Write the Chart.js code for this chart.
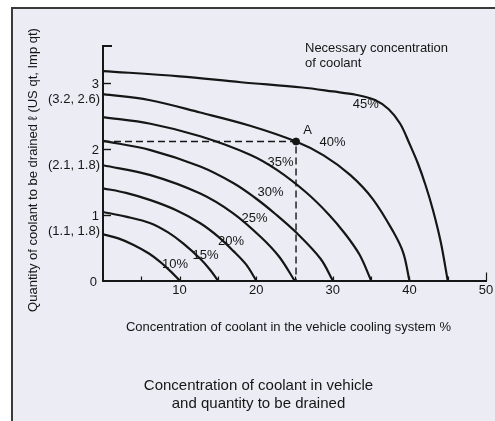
<!DOCTYPE html>
<html>
<head>
<meta charset="utf-8">
<script src="https://cdn.jsdelivr.net/npm/chart.js@4.4.1/dist/chart.umd.min.js"></script>
<style>
  html, body { margin: 0; padding: 0; background: #ffffff; }
  canvas { display: block; }
</style>
</head>
<body>
<canvas id="c" width="495" height="421"></canvas>
<script>
// ---- Data ----
const seriesLabels = ['10%', '15%', '20%', '25%', '30%', '35%', '40%', '45%'];

const curve10 = [[0,0.70],[2,0.64],[4,0.54],[6,0.41],[7.5,0.28],[9,0.12],[10,0]];
const curve15 = [[0,1.04],[3,0.97],[6.2,0.87],[8.5,0.73],[10.5,0.56],[12.7,0.33],[14,0.16],[15,0]];
const curve20 = [[0,1.40],[3,1.33],[6.2,1.22],[9.5,1.07],[12.7,0.87],[15,0.67],[17,0.45],[18.7,0.24],[20,0]];
const curve25 = [[0,1.75],[6.2,1.60],[12.7,1.32],[17,1.02],[20.6,0.66],[23,0.36],[25,0]];
const curve30 = [[0,2.12],[6.2,1.98],[12.7,1.73],[17,1.48],[19.8,1.26],[22.5,1.01],[25.3,0.72],[28.4,0.33],[30,0]];
const curve35 = [[0,2.48],[6.2,2.38],[12.7,2.19],[19.2,1.91],[22.7,1.68],[26.5,1.34],[29.5,1.00],[31.6,0.71],[33.5,0.39],[35,0]];
const curve40 = [[0,2.83],[6,2.74],[12.7,2.55],[19.2,2.35],[25.2,2.11],[28.8,1.90],[32.3,1.60],[35.2,1.24],[37.9,0.74],[39.2,0.42],[40,0]];
const curve45 = [[0,3.18],[10,3.10],[18,3.01],[26,2.93],[30,2.87],[33,2.82],[35.5,2.74],[37.3,2.60],[38.8,2.38],[40,2.08],[41.1,1.78],[42.1,1.45],[43.1,1.06],[44.1,0.58],[45,0]];

const pointA = [25.2, 2.11];
const xTickValues = [10, 20, 30, 40, 50];
const xTickLabels = ['10', '20', '30', '40', '50'];
const yTickValues = [0, 1, 2, 3];
const yTickLabels = ['0', '1', '2', '3'];
const yTickSubLabels = ['', '(1.1, 1.8)', '(2.1, 1.8)', '(3.2, 2.6)'];

const xAxisTitle = 'Concentration of coolant in the vehicle cooling system %';
const yAxisTitle = 'Quantity of coolant to be drained \u2113 (US qt, Imp qt)';
const noteLines = ['Necessary concentration', 'of coolant'];
const titleLines = ['Concentration of coolant in vehicle', 'and quantity to be drained'];

// ---- Build chart ----
const curves = [curve10, curve15, curve20, curve25, curve30, curve35, curve40, curve45];
const FONT = '"Liberation Sans", Arial, Helvetica, sans-serif';
const INK = '#161616';

const datasets = curves.map((c, i) => ({
  label: seriesLabels[i],
  data: c.map(p => ({ x: p[0], y: p[1] })),
  borderColor: INK,
  borderWidth: 2.2,
  pointRadius: 0,
  fill: false,
  tension: 0.35
}));

datasets.push({
  label: 'guide',
  data: [{ x: 0, y: pointA[1] }, { x: pointA[0], y: pointA[1] }, { x: pointA[0], y: 0 }],
  borderColor: INK,
  borderWidth: 1.4,
  borderDash: [7, 4],
  pointRadius: 0,
  tension: 0,
  fill: false
});

datasets.push({
  label: 'A',
  type: 'scatter',
  data: [{ x: pointA[0], y: pointA[1] }],
  pointRadius: 3.5,
  pointBackgroundColor: INK,
  pointBorderColor: INK,
  showLine: false
});

// label anchors (in data units) for the curve percentages
const curveLabelAnchors = [[9.4,0.24],[13.38,0.38],[16.71,0.59],[19.78,0.95],[21.87,1.33],[23.17,1.80],[29.96,2.10],[34.3,2.68]];

const overlay = {
  id: 'overlay',
  beforeDraw(chart) {
    const ctx = chart.ctx;
    ctx.save();
    ctx.fillStyle = '#ffffff';
    ctx.fillRect(0, 0, chart.width, chart.height);
    ctx.fillStyle = '#ececf5';
    ctx.fillRect(12, 8, chart.width - 12, chart.height - 8);
    ctx.strokeStyle = '#3a3a3a';
    ctx.lineWidth = 2;
    ctx.beginPath();
    ctx.moveTo(12, chart.height);
    ctx.lineTo(12, 8);
    ctx.lineTo(chart.width, 8);
    ctx.stroke();
    ctx.restore();
  },
  afterDraw(chart) {
    const ctx = chart.ctx;
    const xs = chart.scales.x, ys = chart.scales.y;
    const area = chart.chartArea;
    ctx.save();
    ctx.strokeStyle = INK;
    ctx.fillStyle = INK;

    // tick marks on x axis (upward)
    ctx.lineWidth = 1.2;
    for (let v = 5; v <= 50; v += 5) {
      const px = Math.round(xs.getPixelForValue(v)) + 0.5;
      const len = v === 50 ? 8 : 4;
      ctx.beginPath();
      ctx.moveTo(px, area.bottom);
      ctx.lineTo(px, area.bottom - len);
      ctx.stroke();
    }
    // tick marks on y axis (rightward)
    ctx.lineWidth = 1.4;
    yTickValues.slice(1).forEach(v => {
      const py = Math.round(ys.getPixelForValue(v)) + 0.5;
      ctx.beginPath();
      ctx.moveTo(area.left, py);
      ctx.lineTo(area.left + 8, py);
      ctx.stroke();
    });
    // top cap of y axis
    ctx.lineWidth = 2;
    ctx.beginPath();
    ctx.moveTo(area.left - 1, area.top);
    ctx.lineTo(area.left + 9, area.top);
    ctx.stroke();

    // x tick labels
    ctx.font = '13px ' + FONT;
    ctx.textAlign = 'center';
    ctx.textBaseline = 'middle';
    xTickValues.forEach((v, i) => {
      ctx.fillText(xTickLabels[i], xs.getPixelForValue(v), area.bottom + 9.5);
    });

    // y tick labels
    ctx.textAlign = 'right';
    yTickValues.forEach((v, i) => {
      const py = ys.getPixelForValue(v);
      const xr = v === 0 ? 97 : 99;
      ctx.fillText(yTickLabels[i], xr, py + 1.5);
      if (yTickSubLabels[i]) ctx.fillText(yTickSubLabels[i], 100, py + 17);
    });

    // x axis title
    ctx.textAlign = 'center';
    ctx.fillText(xAxisTitle, 288.5, 327.5);

    // y axis title (rotated)
    ctx.save();
    ctx.translate(33.5, 170);
    ctx.rotate(-Math.PI / 2);
    ctx.fillText(yAxisTitle, 0, 0);
    ctx.restore();

    // note
    ctx.textAlign = 'left';
    ctx.fillText(noteLines[0], 305, 48.5);
    ctx.fillText(noteLines[1], 305, 63.5);

    // curve labels
    ctx.textAlign = 'center';
    curveLabelAnchors.forEach((a, i) => {
      ctx.fillText(seriesLabels[i], xs.getPixelForValue(a[0]), ys.getPixelForValue(a[1]));
    });

    // point label A
    ctx.fillText('A', xs.getPixelForValue(pointA[0]) + 11.5, ys.getPixelForValue(pointA[1]) - 11);

    // bottom title
    ctx.font = '15px ' + FONT;
    ctx.fillText(titleLines[0], 258.5, 385.5);
    ctx.fillText(titleLines[1], 258.5, 404);

    ctx.restore();
  }
};

new Chart(document.getElementById('c'), {
  type: 'line',
  data: { datasets },
  options: {
    responsive: false,
    animation: false,
    devicePixelRatio: 1,
    layout: { padding: { left: 103, right: 9, top: 46, bottom: 140.5 } },
    plugins: { legend: { display: false }, tooltip: { enabled: false } },
    scales: {
      x: {
        type: 'linear', min: 0, max: 50,
        grid: { display: false, drawTicks: false },
        ticks: { display: false },
        border: { display: true, color: INK, width: 2 }
      },
      y: {
        type: 'linear', min: 0, max: 3.56,
        grid: { display: false, drawTicks: false },
        ticks: { display: false },
        border: { display: true, color: INK, width: 2 }
      }
    }
  },
  plugins: [overlay]
});
</script>
</body>
</html>
